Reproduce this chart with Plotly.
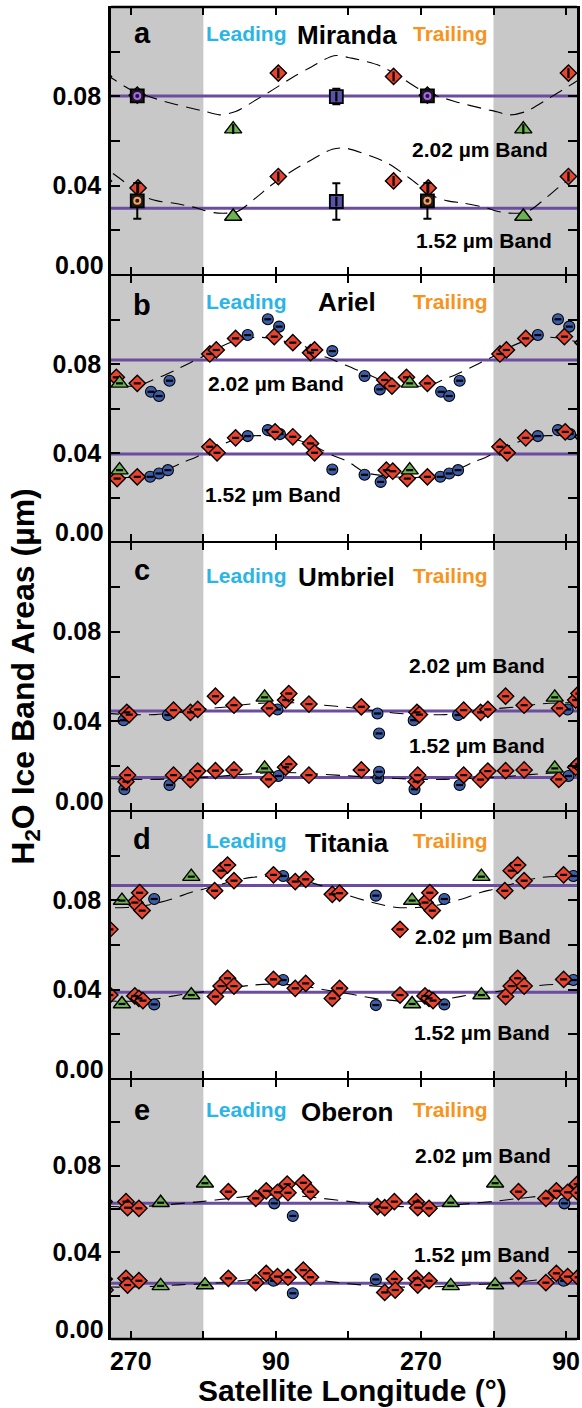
import plotly.graph_objects as go

# ---------------- axis ticks ----------------
X_RANGE = [245.4, 823.6]
TICK_X = [270, 360, 450, 540, 630, 720, 810]
TICK_X_TEXT = ["270", "", "90", "", "270", "", "90"]
Y_TICKS = [0.0, 0.02, 0.04, 0.06, 0.08, 0.10, 0.12]
Y_TICK_TEXT = ["", "", "0.04", "", "0.08", "", ""]

MOONS = ["Miranda", "Ariel", "Umbriel", "Titania", "Oberon"]
LETTERS = ["a", "b", "c", "d", "e"]

# mean band areas (horizontal reference lines)
MEAN_202 = [0.0802, 0.0818, 0.0446, 0.0866, 0.0626]
MEAN_152 = [0.0299, 0.0395, 0.0150, 0.0388, 0.0257]

# ---------------- Miranda ----------------
MIR_DIA_LON_202 = [93, 236, 278]
MIR_DIA_202 = [0.0904, 0.0889, 0.0805]
MIR_DIA_LON_152 = [93, 236, 279]
MIR_DIA_152 = [0.0441, 0.0421, 0.0390]
MIR_TRI_LON = [37]
MIR_TRI_202 = [0.0653]
MIR_TRI_152 = [0.0262]
MIR_SQB_LON = [165]
MIR_SQB_202 = [0.0799]
MIR_SQB_152 = [0.0329]
MIR_SQB_ERR_202 = [0.0035]
MIR_SQB_ERR_152 = [0.0082]
MIR_SQK_LON = [278]
MIR_SQK_202 = [0.0802]
MIR_SQK_152 = [0.0332]
MIR_SQK_ERR_202 = [0.0020]
MIR_SQK_ERR_152 = [0.0080]
MIR_FIT_LON_202 = [0, 20, 40, 69, 86, 114, 135, 162, 184, 219, 246, 270, 312, 353]
MIR_FIT_202 = [0.0735, 0.0717, 0.0732, 0.0792, 0.0829, 0.0892, 0.0934, 0.0982,
               0.0971, 0.0937, 0.0882, 0.0829, 0.0777, 0.0740]
MIR_FIT_LON_152 = [0, 18, 42, 67, 82, 110, 127, 160, 176, 211, 230, 256, 287, 303, 324, 353]
MIR_FIT_152 = [0.0290, 0.0277, 0.0284, 0.0351, 0.0396, 0.0466, 0.0501, 0.0563,
               0.0568, 0.0528, 0.0498, 0.0433, 0.0351, 0.0332, 0.0321, 0.0299]

# ---------------- Ariel ----------------
ARI_DIA_LON_202 = [8, 16, 40, 88, 111, 133, 138, 225, 234, 252, 278]
ARI_DIA_202 = [0.0845, 0.0863, 0.0915, 0.0923, 0.0896, 0.0851, 0.0863, 0.0728, 0.0701, 0.0740, 0.0713]
ARI_DIA_LON_152 = [8, 17, 40, 89, 111, 133, 138, 227, 235, 253, 278]
ARI_DIA_152 = [0.0428, 0.0401, 0.0468, 0.0495, 0.0473, 0.0443, 0.0401, 0.0323, 0.0318, 0.0285, 0.0293]
ARI_CIR_LON_202 = [55, 80, 94, 160, 200, 219, 295, 305, 318]
ARI_CIR_202 = [0.0930, 0.1001, 0.0968, 0.0858, 0.0746, 0.0686, 0.0675, 0.0656, 0.0725]
ARI_CIR_LON_152 = [55, 80, 95, 160, 200, 220, 294, 305, 316]
ARI_CIR_152 = [0.0476, 0.0503, 0.0485, 0.0326, 0.0302, 0.0270, 0.0293, 0.0308, 0.0323]
ARI_TRI_LON = [256]
ARI_TRI_202 = [0.0713]
ARI_TRI_152 = [0.0323]
ARI_FIT_LON_202 = [0, 20, 40, 65, 85, 105, 125, 140, 160, 176, 200, 220, 240, 260, 280, 297, 315, 330, 345]
ARI_FIT_202 = [0.0835, 0.0875, 0.0905, 0.0920, 0.0915, 0.0898, 0.0880, 0.0848, 0.0820, 0.0795,
               0.0760, 0.0728, 0.0705, 0.0700, 0.0703, 0.0728, 0.0755, 0.0781, 0.0808]
ARI_FIT_LON_152 = [0, 20, 40, 60, 80, 100, 120, 143, 160, 180, 200, 220, 240, 260, 280, 300, 318, 334, 350]
ARI_FIT_152 = [0.0398, 0.0433, 0.0462, 0.0477, 0.0477, 0.0470, 0.0455, 0.0421, 0.0390, 0.0360,
               0.0313, 0.0300, 0.0292, 0.0290, 0.0292, 0.0305, 0.0330, 0.0357, 0.0380]

# ---------------- Umbriel ----------------
UMB_DIA_LON_202 = [15, 38, 82, 102, 106, 131, 196, 265, 268, 323, 344, 353]
UMB_DIA_202 = [0.0512, 0.0472, 0.0458, 0.0495, 0.0524, 0.0477, 0.0465, 0.0440, 0.0430, 0.0450, 0.0440, 0.0453]
UMB_DIA_LON_152 = [15, 38, 81, 102, 106, 131, 196, 264, 266, 323, 344, 353]
UMB_DIA_152 = [0.0180, 0.0183, 0.0141, 0.0195, 0.0209, 0.0160, 0.0183, 0.0131, 0.0160, 0.0160, 0.0140, 0.0178]
UMB_CIR_LON_202 = [92, 216, 218, 261, 316]
UMB_CIR_202 = [0.0453, 0.0435, 0.0346, 0.0405, 0.0428]
UMB_CIR_LON_152 = [93, 217, 218, 262, 318]
UMB_CIR_152 = [0.0156, 0.0146, 0.0175, 0.0097, 0.0116]
UMB_TRI_LON = [76]
UMB_TRI_202 = [0.0507]
UMB_TRI_152 = [0.0190]
UMB_FIT_LON = [0, 30, 60, 90, 120, 150, 180, 210, 240, 270, 300, 330]
UMB_FIT_202 = [0.0455, 0.0465, 0.0478, 0.0483, 0.0482, 0.0472, 0.0462, 0.0448, 0.0436, 0.0430, 0.0430, 0.0440]
UMB_FIT_152 = [0.0150, 0.0158, 0.0166, 0.0172, 0.0170, 0.0163, 0.0157, 0.0150, 0.0145, 0.0141, 0.0141, 0.0145]

# ---------------- Titania ----------------
TIT_DIA_LON_202 = [14, 22, 30, 38, 87, 114, 127, 160, 169, 244, 275, 281, 284]
TIT_DIA_202 = [0.0843, 0.0933, 0.0958, 0.0888, 0.0914, 0.0884, 0.0894, 0.0827, 0.0832,
               0.0670, 0.0790, 0.0834, 0.0754]
TIT_DIA_LON_152 = [15, 22, 30, 38, 87, 114, 127, 160, 169, 244, 275, 280, 285]
TIT_DIA_152 = [0.0369, 0.0416, 0.0451, 0.0416, 0.0446, 0.0406, 0.0428, 0.0361, 0.0406,
               0.0376, 0.0372, 0.0361, 0.0351]
TIT_CIR_LON = [99, 214, 299]
TIT_CIR_202 = [0.0909, 0.0821, 0.0806]
TIT_CIR_152 = [0.0443, 0.0331, 0.0334]
TIT_TRI_LON = [259, 345]
TIT_TRI_202 = [0.0799, 0.0906]
TIT_TRI_152 = [0.0336, 0.0376]
TIT_FIT_LON = [0, 30, 60, 90, 120, 150, 180, 210, 240, 265, 290, 320, 345]
TIT_FIT_202 = [0.0850, 0.0880, 0.0903, 0.0906, 0.0892, 0.0862, 0.0822, 0.0790, 0.0768,
               0.0768, 0.0778, 0.0805, 0.0836]
TIT_FIT_152 = [0.0390, 0.0405, 0.0420, 0.0425, 0.0418, 0.0400, 0.0382, 0.0362, 0.0350,
               0.0348, 0.0352, 0.0370, 0.0385]

# ---------------- Oberon ----------------
OBE_DIA_LON_202 = [31, 65, 78, 92, 104, 105, 124, 133, 216, 225, 237, 264, 266, 280]
OBE_DIA_202 = [0.0680, 0.0649, 0.0684, 0.0677, 0.0715, 0.0675, 0.0721, 0.0680, 0.0611,
               0.0606, 0.0634, 0.0634, 0.0606, 0.0603]
OBE_DIA_LON_152 = [31, 65, 78, 92, 105, 124, 133, 225, 237, 238, 264, 266, 280]
OBE_DIA_152 = [0.0280, 0.0260, 0.0303, 0.0288, 0.0285, 0.0318, 0.0285, 0.0215, 0.0277,
               0.0226, 0.0280, 0.0249, 0.0269]
OBE_CIR_LON_202 = [88, 111]
OBE_CIR_202 = [0.0626, 0.0568]
OBE_CIR_LON_152 = [87, 111, 214]
OBE_CIR_152 = [0.0269, 0.0211, 0.0275]
OBE_TRI_LON = [2, 307]
OBE_TRI_202 = [0.0719, 0.0629]
OBE_TRI_152 = [0.0249, 0.0245]
OBE_FIT_LON = [0, 30, 60, 90, 120, 150, 180, 210, 240, 270, 300, 330]
OBE_FIT_202 = [0.0635, 0.0648, 0.0660, 0.0665, 0.0660, 0.0648, 0.0635, 0.0620, 0.0612, 0.0610, 0.0615, 0.0625]
OBE_FIT_152 = [0.0255, 0.0262, 0.0275, 0.0280, 0.0278, 0.0268, 0.0255, 0.0245, 0.0240, 0.0240, 0.0243, 0.0250]

# ---------------- styling ----------------
FONT = "Liberation Sans, Arial, sans-serif"
RED = "#e8432f"
BLUE = "#3b5ca8"
GREEN = "#6cb24e"
PURPLE = "#6b4c9f"
SHADE = "#c8c8c8"
LEAD = "#2bb5e6"
TRAIL = "#f7941e"
TICK_SIZE = 25

DIAMOND = dict(symbol="diamond", size=12.5, color=RED, line=dict(color="black", width=1.4))
CIRCLE = dict(symbol="circle", size=11, color=BLUE, line=dict(color="black", width=1.1))
TRIANGLE = dict(symbol="triangle-up", size=15, color=GREEN, line=dict(color="black", width=1.4))
SQ_BLUE = dict(symbol="square", size=13, color="#5a52a6", line=dict(color="black", width=1.8))
SQ_DARK = dict(symbol="square", size=13, color="#1c1c1c", line=dict(color="black", width=1.8))

W, H = 582, 1408
M_L, M_R, M_T, M_B = 111, 2, 7, 69
PH = H - M_T - M_B
EDGES = [7, 275, 542, 811, 1079, 1339]
FRAME_W = 2.6


def ydom(i):
    return [(EDGES[-1] - EDGES[i + 1]) / PH, (EDGES[-1] - EDGES[i]) / PH]


def tile(lons, vals):
    """Repeat each longitude every 360 deg across the plotted span."""
    xs, ys = [], []
    for k in (0, 360, 720):
        for lon, v in zip(lons, vals):
            x = lon + k
            if X_RANGE[0] - 10 <= x <= X_RANGE[1] + 10:
                xs.append(x)
                ys.append(v)
    return xs, ys


def tile_curve(lons, vals):
    xs, ys = [], []
    for k in (-360, 0, 360, 720):
        for lon, v in zip(lons, vals):
            xs.append(lon + k)
            ys.append(v)
    return xs, ys


fig = go.Figure()


def ax(i):
    return ("x" if i == 0 else "x%d" % (i + 1)), ("y" if i == 0 else "y%d" % (i + 1))


def add_fit(i, lons, vals):
    xa, ya = ax(i)
    xs, ys = tile_curve(lons, vals)
    fig.add_trace(go.Scatter(x=xs, y=ys, mode="lines", xaxis=xa, yaxis=ya,
                             line=dict(color="black", width=1.1, dash="14px,8px", shape="spline",
                                       smoothing=0.8),
                             hoverinfo="skip", showlegend=False))


def add_points(i, lons, vals, style, inner="line-ew", errs=None):
    xa, ya = ax(i)
    xs, ys = tile(lons, vals)
    err = None
    if errs is not None:
        _, es = tile(lons, errs)
        err = dict(type="data", array=es, color="black", thickness=2, width=4)
    fig.add_trace(go.Scatter(x=xs, y=ys, mode="markers", xaxis=xa, yaxis=ya, marker=style,
                             error_y=err, showlegend=False))
    if inner:
        size = 7 if inner == "line-ns" else 5
        fig.add_trace(go.Scatter(x=xs, y=ys, mode="markers", xaxis=xa, yaxis=ya,
                                 marker=dict(symbol=inner, size=size,
                                             line=dict(color="black", width=2.2)),
                                 hoverinfo="skip", showlegend=False))


# fitted curves
add_fit(0, MIR_FIT_LON_202, MIR_FIT_202)
add_fit(0, MIR_FIT_LON_152, MIR_FIT_152)
add_fit(1, ARI_FIT_LON_202, ARI_FIT_202)
add_fit(1, ARI_FIT_LON_152, ARI_FIT_152)
add_fit(2, UMB_FIT_LON, UMB_FIT_202)
add_fit(2, UMB_FIT_LON, UMB_FIT_152)
add_fit(3, TIT_FIT_LON, TIT_FIT_202)
add_fit(3, TIT_FIT_LON, TIT_FIT_152)
add_fit(4, OBE_FIT_LON, OBE_FIT_202)
add_fit(4, OBE_FIT_LON, OBE_FIT_152)

# Miranda
add_points(0, MIR_DIA_LON_202, MIR_DIA_202, DIAMOND, "line-ns")
add_points(0, MIR_DIA_LON_152, MIR_DIA_152, DIAMOND, "line-ns")
add_points(0, MIR_TRI_LON, MIR_TRI_202, TRIANGLE, "line-ns")
add_points(0, MIR_TRI_LON, MIR_TRI_152, TRIANGLE, None)
add_points(0, MIR_SQB_LON, MIR_SQB_202, SQ_BLUE, "line-ns", MIR_SQB_ERR_202)
add_points(0, MIR_SQB_LON, MIR_SQB_152, SQ_BLUE, "line-ns", MIR_SQB_ERR_152)
add_points(0, MIR_SQK_LON, MIR_SQK_202, SQ_DARK, None, MIR_SQK_ERR_202)
add_points(0, MIR_SQK_LON, MIR_SQK_152, SQ_DARK, None, MIR_SQK_ERR_152)
for vals in (MIR_SQK_202, MIR_SQK_152):
    xs, ys = tile(MIR_SQK_LON, vals)
    fig.add_trace(go.Scatter(x=xs, y=ys, mode="markers", xaxis="x", yaxis="y",
                             marker=dict(symbol="circle-open", size=6,
                                         line=dict(color="#ff3a26", width=2)),
                             hoverinfo="skip", showlegend=False))

# Ariel
for lons, vals in ((ARI_CIR_LON_202, ARI_CIR_202), (ARI_CIR_LON_152, ARI_CIR_152)):
    add_points(1, lons, vals, CIRCLE)
for lons, vals in ((ARI_DIA_LON_202, ARI_DIA_202), (ARI_DIA_LON_152, ARI_DIA_152)):
    add_points(1, lons, vals, DIAMOND)
add_points(1, ARI_TRI_LON, ARI_TRI_202, TRIANGLE)
add_points(1, ARI_TRI_LON, ARI_TRI_152, TRIANGLE)

# Umbriel
for lons, vals in ((UMB_CIR_LON_202, UMB_CIR_202), (UMB_CIR_LON_152, UMB_CIR_152)):
    add_points(2, lons, vals, CIRCLE)
for lons, vals in ((UMB_DIA_LON_202, UMB_DIA_202), (UMB_DIA_LON_152, UMB_DIA_152)):
    add_points(2, lons, vals, DIAMOND)
add_points(2, UMB_TRI_LON, UMB_TRI_202, TRIANGLE)
add_points(2, UMB_TRI_LON, UMB_TRI_152, TRIANGLE)

# Titania
add_points(3, TIT_CIR_LON, TIT_CIR_202, CIRCLE)
add_points(3, TIT_CIR_LON, TIT_CIR_152, CIRCLE)
for lons, vals in ((TIT_DIA_LON_202, TIT_DIA_202), (TIT_DIA_LON_152, TIT_DIA_152)):
    add_points(3, lons, vals, DIAMOND)
add_points(3, TIT_TRI_LON, TIT_TRI_202, TRIANGLE)
add_points(3, TIT_TRI_LON, TIT_TRI_152, TRIANGLE)

# Oberon
for lons, vals in ((OBE_CIR_LON_202, OBE_CIR_202), (OBE_CIR_LON_152, OBE_CIR_152)):
    add_points(4, lons, vals, CIRCLE)
for lons, vals in ((OBE_DIA_LON_202, OBE_DIA_202), (OBE_DIA_LON_152, OBE_DIA_152)):
    add_points(4, lons, vals, DIAMOND)
add_points(4, OBE_TRI_LON, OBE_TRI_202, TRIANGLE)
add_points(4, OBE_TRI_LON, OBE_TRI_152, TRIANGLE)

# ---------------- layout ----------------
shapes, annotations = [], []
layout = dict(width=W, height=H, margin=dict(l=M_L, r=M_R, t=M_T, b=M_B),
              plot_bgcolor="white", paper_bgcolor="white", showlegend=False)

TITLE_Y = [(0.902, 0.8965, 0.9014), (0.8868, 0.8976, 0.9025), (0.8968, 0.870, 0.8756),
           (0.8937, 0.8806, 0.8899), (0.8808, 0.8746, 0.8827)]
BAND_POS = [((0.7922, 0.4669), (0.7997, 0.1270)),
            ((0.3531, 0.5951), (0.3480, 0.1789)),
            ((0.7863, 0.5421), (0.7863, 0.2425)),
            ((0.7976, 0.5317), (0.7954, 0.1735)),
            ((0.7976, 0.7058), (0.7954, 0.3269))]


def label(text, xa, ya, x, y, size, color="black"):
    return dict(text=text, xref=xa + " domain", yref=ya + " domain", x=x, y=y,
                xanchor="center", yanchor="middle", showarrow=False,
                font=dict(family=FONT, size=size, color=color))


for i in range(5):
    xa, ya = ax(i)
    key = "" if i == 0 else str(i + 1)
    layout["xaxis" + key] = dict(
        domain=[0, 1], range=X_RANGE, anchor=ya, tickvals=TICK_X, ticktext=TICK_X_TEXT,
        ticks="inside", ticklen=8, tickwidth=2, tickcolor="black", showline=True,
        linewidth=FRAME_W / 2, linecolor="black", mirror="ticks", showgrid=False,
        zeroline=False, showticklabels=(i == 4), ticklabelstandoff=0,
        tickfont=dict(family=FONT, size=TICK_SIZE, color="black", weight="bold"))
    layout["yaxis" + key] = dict(
        domain=ydom(i), range=[0, 0.12], anchor=xa, tickvals=Y_TICKS, ticktext=Y_TICK_TEXT,
        ticks="inside", ticklen=9, tickwidth=2, tickcolor="black", showline=True,
        linewidth=FRAME_W, linecolor="black", mirror="ticks", showgrid=False, zeroline=False,
        ticklabelstandoff=2,
        tickfont=dict(family=FONT, size=TICK_SIZE, color="black", weight="bold"))

    # shaded longitudes outside the central 0-360 window
    shapes.append(dict(type="rect", xref=xa, yref=ya + " domain", x0=X_RANGE[0] - 20, x1=360,
                       y0=0, y1=1, fillcolor=SHADE, line_width=0, layer="below"))
    shapes.append(dict(type="rect", xref=xa, yref=ya + " domain", x0=720, x1=X_RANGE[1] + 20,
                       y0=0, y1=1, fillcolor=SHADE, line_width=0, layer="below"))
    for m in (MEAN_202[i], MEAN_152[i]):
        shapes.append(dict(type="line", xref=xa + " domain", yref=ya, x0=0, x1=1, y0=m, y1=m,
                           line=dict(color=PURPLE, width=3), layer="below"))

    ly, ny, sy = TITLE_Y[i]
    annotations += [
        label("<b>%s</b>" % LETTERS[i], xa, ya, 0.0667, ly, 29),
        label("<b>Leading</b>", xa, ya, 0.2904, sy, 21, LEAD),
        label("<b>%s</b>" % MOONS[i], xa, ya, 0.5056, ny, 26),
        label("<b>Trailing</b>", xa, ya, 0.7294, sy, 21, TRAIL),
        dict(text="<b>0.00</b>", xref=xa + " domain", yref=ya, x=0, y=0, xanchor="right",
             yanchor="middle", xshift=-5, yshift=10, showarrow=False,
             font=dict(family=FONT, size=TICK_SIZE, color="black")),
    ]
    (bx1, by1), (bx2, by2) = BAND_POS[i]
    annotations.append(label("<b>2.02 µm Band</b>", xa, ya, bx1, by1, 21))
    annotations.append(label("<b>1.52 µm Band</b>", xa, ya, bx2, by2, 21))

# outer top and bottom frame edges at full weight
shapes.append(dict(type="line", xref="paper", yref="paper", x0=0, x1=1, y0=1, y1=1,
                   line=dict(color="black", width=FRAME_W), layer="above"))
shapes.append(dict(type="line", xref="paper", yref="paper", x0=0, x1=1, y0=0, y1=0,
                   line=dict(color="black", width=FRAME_W), layer="above"))

annotations.append(dict(text="<b>H<sub>2</sub>O Ice Band Areas (µm)</b>", textangle=-90,
                        xref="paper", yref="paper", x=-0.183, y=0.497, xanchor="center",
                        yanchor="middle", showarrow=False,
                        font=dict(family=FONT, size=32, color="black")))
annotations.append(dict(text="<b>Satellite Longitude (°)</b>", xref="paper", yref="paper",
                        x=0.519, y=-0.0375, xanchor="center", yanchor="middle", yshift=-2,
                        showarrow=False, font=dict(family=FONT, size=30, color="black")))

layout["shapes"] = shapes
layout["annotations"] = annotations
fig.update_layout(**layout)
fig.write_html("out.html")
